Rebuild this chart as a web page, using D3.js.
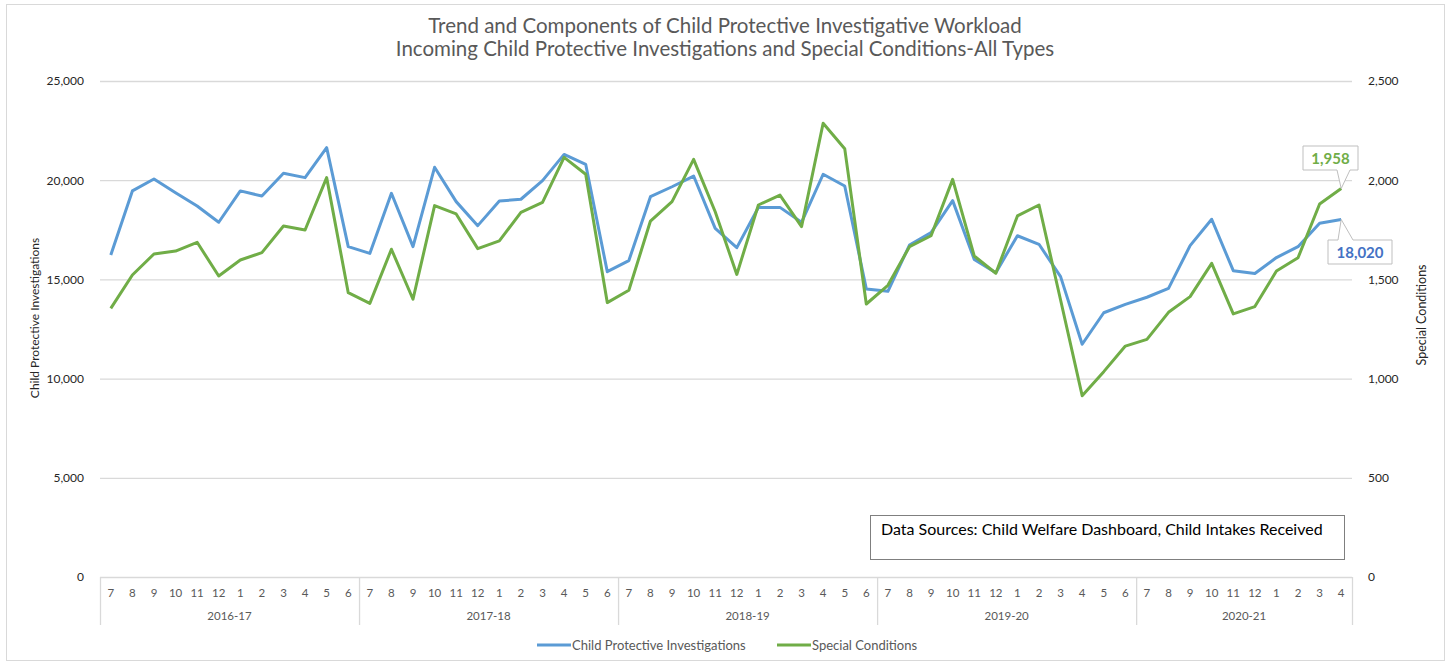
<!DOCTYPE html>
<html>
<head>
<meta charset="utf-8">
<script src="https://cdn.jsdelivr.net/npm/d3@7"></script>
<style>
  body { margin: 0; background: #fff; }
  text { font-family: Lato, "Open Sans", sans-serif; }
</style>
</head>
<body>
<script>
const width = 1449;
const height = 662;

// months of each fiscal year, July to June
const months = [7, 8, 9, 10, 11, 12, 1, 2, 3, 4, 5, 6];
const fiscalYears = ["2016-17", "2017-18", "2018-19", "2019-20", "2020-21"];

// incoming child protective investigations (left axis)
const investigations = [
  16230, 19460, 20060, 19370, 18700, 17880, 19460, 19200, 20350, 20130, 21640, 16650,
  16310, 19340, 16650, 20650, 18920, 17710, 18950, 19040, 19980, 21300, 20800, 15390,
  15950, 19170, 19670, 20210, 17570, 16600, 18620, 18630, 17880, 20300, 19710, 14520,
  14400, 16730, 17360, 18970, 16010, 15340, 17200, 16770, 15140, 11730, 13320, 13740,
  14100, 14550, 16700, 18030, 15440, 15300, 16100, 16650, 17830, 18020
];

// special conditions, all types (right axis)
const specialConditions = [
  1354, 1522, 1628, 1643, 1687, 1517, 1598, 1635, 1769, 1749, 2013, 1433,
  1379, 1652, 1400, 1872, 1830, 1655, 1694, 1838, 1888, 2115, 2030, 1383,
  1445, 1794, 1892, 2105, 1841, 1525, 1875, 1925, 1766, 2287, 2159, 1376,
  1470, 1665, 1720, 2004, 1618, 1531, 1820, 1875, 1396, 914, 1035, 1164,
  1198, 1334, 1413, 1581, 1326, 1363, 1542, 1609, 1880, 1958
];

const leftTicks = [0, 5000, 10000, 15000, 20000, 25000];
const rightTicks = [0, 500, 1000, 1500, 2000, 2500];

const blue = "#5b9bd5";
const green = "#70ad47";
const gridColor = "#d9d9d9";

// one entry per month in the series
const periods = investigations.map((v, i) => ({
  i: i,
  month: months[i % 12],
  fy: fiscalYears[Math.floor(i / 12)]
}));

const plot = { left: 100, right: 1352, top: 81, bottom: 577 };

var svg = d3.select("body")
  .append("svg")
  .attr("width", width)
  .attr("height", height);

// outer chart frame
svg.append("rect")
  .attr("x", 6.5).attr("y", 4.5)
  .attr("width", 1438).attr("height", 656)
  .attr("fill", "none")
  .attr("stroke", gridColor);

var x = d3.scaleBand()
  .domain(periods.map(d => d.i))
  .range([plot.left, plot.right]);

var yLeft = d3.scaleLinear().domain([0, 25000]).range([plot.bottom, plot.top]);
var yRight = d3.scaleLinear().domain([0, 2500]).range([plot.bottom, plot.top]);

var cx = i => x(i) + x.bandwidth() / 2;

// title
svg.append("text")
  .attr("x", 725).attr("y", 33)
  .attr("text-anchor", "middle")
  .attr("font-size", 20.5).attr("fill", "#595959")
  .text("Trend and Components of Child Protective Investigative Workload");
svg.append("text")
  .attr("x", 725).attr("y", 56)
  .attr("text-anchor", "middle")
  .attr("font-size", 20.5).attr("fill", "#595959")
  .text("Incoming Child Protective Investigations and Special Conditions-All Types");

// gridlines
svg.append("g")
  .selectAll("line")
  .data(leftTicks.slice(1))
  .enter()
  .append("line")
  .attr("x1", plot.left).attr("x2", plot.right)
  .attr("y1", d => yLeft(d) + 0.5).attr("y2", d => yLeft(d) + 0.5)
  .attr("stroke", gridColor).attr("stroke-width", 1.3);

// left axis
var leftAxis = svg.append("g")
  .attr("transform", "translate(" + (plot.left - 13) + ",0)")
  .call(d3.axisLeft(yLeft).tickValues(leftTicks).tickFormat(d3.format(",")).tickSize(0));
leftAxis.select(".domain").remove();
leftAxis.selectAll("text")
  .attr("font-size", 12).attr("fill", "#262626")
  .style("font-family", "Lato, sans-serif");

// right axis
var rightAxis = svg.append("g")
  .attr("transform", "translate(" + (plot.right + 13) + ",0)")
  .call(d3.axisRight(yRight).tickValues(rightTicks).tickFormat(d3.format(",")).tickSize(0));
rightAxis.select(".domain").remove();
rightAxis.selectAll("text")
  .attr("font-size", 12).attr("fill", "#262626")
  .style("font-family", "Lato, sans-serif");

// axis titles
svg.append("text")
  .attr("transform", "translate(39,318) rotate(-90)")
  .attr("text-anchor", "middle")
  .attr("font-size", 12).attr("fill", "#262626")
  .text("Child Protective Investigations");
svg.append("text")
  .attr("transform", "translate(1426,315) rotate(-90)")
  .attr("text-anchor", "middle")
  .attr("font-size", 12.5).attr("fill", "#262626")
  .text("Special Conditions");

// category axis: month row, fiscal year row, separators
var catAxis = svg.append("g");
catAxis.append("line")
  .attr("x1", plot.left).attr("x2", plot.right)
  .attr("y1", plot.bottom + 0.5).attr("y2", plot.bottom + 0.5)
  .attr("stroke", gridColor).attr("stroke-width", 1.3);

catAxis.selectAll("text.month")
  .data(periods)
  .enter()
  .append("text")
  .attr("class", "month")
  .attr("x", d => cx(d.i))
  .attr("y", 597)
  .attr("text-anchor", "middle")
  .attr("font-size", 11.5).attr("fill", "#595959")
  .text(d => d.month);

var yearGroups = d3.groups(periods, d => d.fy);
catAxis.selectAll("text.fy")
  .data(yearGroups)
  .enter()
  .append("text")
  .attr("class", "fy")
  .attr("x", d => (x(d[1][0].i) + x(d[1][d[1].length - 1].i) + x.bandwidth()) / 2)
  .attr("y", 620)
  .attr("text-anchor", "middle")
  .attr("font-size", 11.5).attr("fill", "#595959")
  .text(d => d[0]);

var seps = yearGroups.map(d => x(d[1][0].i)).concat([plot.right]);
catAxis.selectAll("line.sep")
  .data(seps)
  .enter()
  .append("line")
  .attr("class", "sep")
  .attr("x1", d => d + 0.5).attr("x2", d => d + 0.5)
  .attr("y1", plot.bottom).attr("y2", 625)
  .attr("stroke", gridColor).attr("stroke-width", 1.3);

// series lines
var lineLeft = d3.line().x((d, i) => cx(i)).y(d => yLeft(d));
var lineRight = d3.line().x((d, i) => cx(i)).y(d => yRight(d));

svg.append("path")
  .datum(investigations)
  .attr("d", lineLeft)
  .attr("fill", "none")
  .attr("stroke", blue).attr("stroke-width", 3)
  .attr("stroke-linejoin", "round");

svg.append("path")
  .datum(specialConditions)
  .attr("d", lineRight)
  .attr("fill", "none")
  .attr("stroke", green).attr("stroke-width", 3)
  .attr("stroke-linejoin", "round");

// callout labels for the latest month
var last = investigations.length - 1;
var fmt = d3.format(",");

function callout(px, py, bx, by, bw, bh, tail, color, label) {
  // tail: [baseX1, baseX2] on the box edge nearest the point
  var below = py > by + bh;
  var pts;
  if (below) {
    pts = [[bx, by], [bx + bw, by], [bx + bw, by + bh], [tail[1], by + bh],
           [px, py], [tail[0], by + bh], [bx, by + bh]];
  } else {
    pts = [[bx, by], [tail[0], by], [px, py], [tail[1], by], [bx + bw, by],
           [bx + bw, by + bh], [bx, by + bh]];
  }
  svg.append("path")
    .attr("d", d3.line()(pts) + "Z")
    .attr("fill", "#fff")
    .attr("stroke", "#bfbfbf").attr("stroke-width", 1);
  svg.append("text")
    .attr("x", bx + bw / 2).attr("y", by + bh / 2 + 5.5)
    .attr("text-anchor", "middle")
    .attr("font-size", 15).attr("font-weight", "bold")
    .attr("fill", color)
    .text(label);
}

var lx = cx(last);
callout(lx, yRight(specialConditions[last]), 1303, 146, 55, 24, [1337, 1350], green, fmt(specialConditions[last]));
callout(lx, yLeft(investigations[last]), 1328, 240, 64, 24, [1338, 1353], "#4472c4", fmt(investigations[last]));

// data source note
svg.append("rect")
  .attr("x", 870.5).attr("y", 515.5)
  .attr("width", 474).attr("height", 44)
  .attr("fill", "#fff")
  .attr("stroke", "#7f7f7f");
svg.append("text")
  .attr("x", 881).attr("y", 535)
  .attr("font-size", 16).attr("fill", "#000")
  .text("Data Sources: Child Welfare Dashboard, Child Intakes Received");

// legend
var legendItems = [
  { name: "Child Protective Investigations", color: blue, x: 537 },
  { name: "Special Conditions", color: green, x: 777 }
];
var legend = svg.append("g")
  .selectAll("g")
  .data(legendItems)
  .enter()
  .append("g")
  .attr("transform", d => "translate(" + d.x + ",645)");
legend.append("line")
  .attr("x1", 0).attr("x2", 34)
  .attr("stroke", d => d.color).attr("stroke-width", 3);
legend.append("text")
  .attr("x", 35).attr("y", 4.5)
  .attr("font-size", 13).attr("fill", "#595959")
  .text(d => d.name);
</script>
</body>
</html>
